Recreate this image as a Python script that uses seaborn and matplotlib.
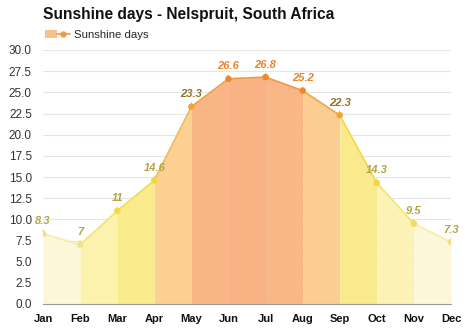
import matplotlib
matplotlib.use("Agg")
import matplotlib.pyplot as plt
import seaborn as sns
import pandas as pd
import numpy as np
from matplotlib.patches import Patch
from matplotlib.lines import Line2D
from matplotlib.legend_handler import HandlerTuple

months = ["Jan", "Feb", "Mar", "Apr", "May", "Jun", "Jul", "Aug", "Sep", "Oct", "Nov", "Dec"]
sunshine_days = [8.3, 7, 11, 14.6, 23.3, 26.6, 26.8, 25.2, 22.3, 14.3, 9.5, 7.3]
value_labels = ["8.3", "7", "11", "14.6", "23.3", "26.6", "26.8", "25.2", "22.3", "14.3", "9.5", "7.3"]
yticks = [0.0, 2.5, 5.0, 7.5, 10.0, 12.5, 15.0, 17.5, 20.0, 22.5, 25.0, 27.5, 30.0]

# style: colours per band / segment / point
band_colors = ["#fdf7d9", "#fcf1ad", "#faeb8c", "#fbd091", "#f9b586", "#f9b283",
               "#f9b687", "#fbcd92", "#faea8d", "#fcf2b6", "#fdf7da"]
seg_colors = ["#f6ec9e", "#f4e46a", "#f2dc4a", "#f3b750", "#ee9a45", "#ee9a45",
              "#ee9a45", "#f0a848", "#f3d650", "#f4e46e", "#f6ec9e"]
pt_colors = ["#efe07a", "#f0e48a", "#f2dc4a", "#f2d640", "#f0a535", "#ea8a2a",
             "#ea8a2a", "#ea8a2a", "#f0a535", "#f2d640", "#f2dc55", "#efe07a"]
lbl_colors = ["#b5a445", "#b5a445", "#b5a445", "#b5a445", "#8f741f", "#e8842a",
              "#e8842a", "#e8842a", "#8f741f", "#b5a445", "#b5a445", "#b5a445"]

df = pd.DataFrame({"x": np.arange(len(months)), "month": months, "days": sunshine_days})

sns.set_style("white")
plt.rcParams["font.family"] = ["Liberation Sans", "DejaVu Sans"]

fig = plt.figure(figsize=(4.74, 3.31), dpi=100)
ax = fig.add_axes([43 / 474, 1 - 304 / 331, (451 - 43) / 474, 254 / 331])

for i in range(len(months) - 1):
    seg = df.iloc[i:i + 2]
    ax.fill_between(seg["x"], 0, seg["days"], color=band_colors[i], lw=0, zorder=1)
    sns.lineplot(data=seg, x="x", y="days", color=seg_colors[i], lw=1.2, ax=ax,
                 legend=False, zorder=3)

sns.scatterplot(data=df, x="x", y="days", hue="month", palette=pt_colors, s=22,
                edgecolor="none", legend=False, ax=ax, zorder=4)

for i, row in df.iterrows():
    ax.annotate("", xy=(row["x"], row["days"]), xytext=(0, 5), textcoords="offset points",
                arrowprops=dict(arrowstyle="-", color=lbl_colors[i], lw=0.6, alpha=0.6))
    ax.annotate(value_labels[i], xy=(row["x"], row["days"]), xytext=(0, 9),
                textcoords="offset points", ha="center", va="center",
                fontsize=8, fontweight="bold", fontstyle="italic", color=lbl_colors[i], zorder=5)

ax.set_xlim(0, 11)
ax.set_ylim(0, 30)
ax.set_yticks(yticks)
ax.set_yticklabels([f"{v:.1f}" for v in yticks], fontsize=8.5, color="#333333")
ax.set_xticks(df["x"])
ax.set_xticklabels(months, fontsize=8, fontweight="bold", color="#111111")
ax.tick_params(axis="both", length=0)
ax.tick_params(axis="y", pad=8)
ax.tick_params(axis="x", pad=7)
ax.set_xlabel("")
ax.set_ylabel("")
ax.grid(axis="y", color="#e6e6e6", lw=0.8)
ax.set_axisbelow(True)
for s in ["top", "right", "left"]:
    ax.spines[s].set_visible(False)
ax.spines["bottom"].set_color("#999999")
ax.spines["bottom"].set_linewidth(0.8)

fig.text(43 / 474, 1 - 15 / 331, "Sunshine days - Nelspruit, South Africa", fontsize=11.2,
         fontweight="bold", ha="left", va="center", color="#111111")

handle = (Patch(facecolor="#f9c08e", edgecolor="none"),
          Line2D([0], [0], color="#ee9a45", lw=1.2, marker="o", markersize=3.5))
fig.legend([handle], ["Sunshine days"], loc="center left",
           bbox_to_anchor=(40 / 474, 1 - 35 / 331), frameon=False, fontsize=8.2,
           handler_map={tuple: HandlerTuple(ndivide=None, pad=0)},
           handlelength=2.2, handletextpad=0.4, borderaxespad=0)

fig.savefig("out.png", dpi=100)
